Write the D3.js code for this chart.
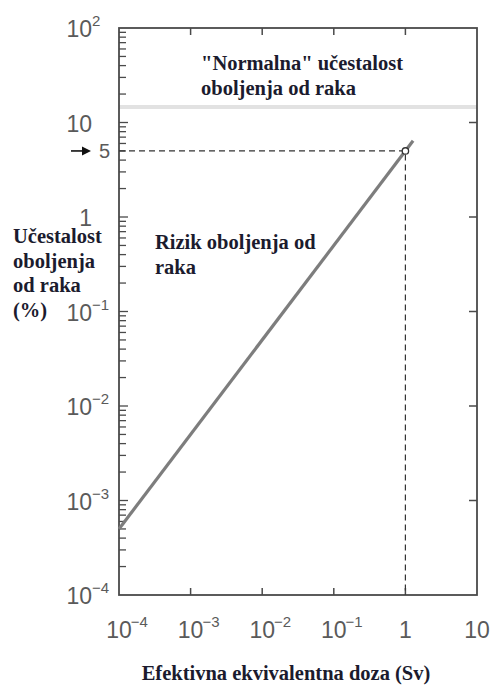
<!DOCTYPE html>
<html><head><meta charset="utf-8">
<script src="https://cdn.jsdelivr.net/npm/d3@7"></script>
<style>body{margin:0;background:#fff}svg{display:block}
.serif{font-family:"Liberation Serif","DejaVu Serif","Times New Roman",serif;font-weight:bold}
.tick{font-family:"Liberation Sans","Arial",sans-serif}
</style>
</head><body>
<script>
// Data
const xDomain = [1e-4, 10];
const yDomain = [1e-4, 100];
const xTickValues = [1e-4, 1e-3, 1e-2, 1e-1, 1, 10];
const xTickExps = ["−4", "−3", "−2", "−1", null, null];
const xTickBases = ["10", "10", "10", "10", "1", "10"];
const yTickValues = [1e-4, 1e-3, 1e-2, 1e-1, 1, 10, 100];
const yTickBases = ["10", "10", "10", "10", "1", "10", "10"];
const yTickExps = ["−4", "−3", "−2", "−1", null, null, "2"];
const riskDose = [1e-4, 1.28];      // Sv
const riskValue = [5e-4, 6.4];      // %
const normalIncidence = 14.6;       // %
const markerPoint = {x: 1, y: 5};
const titleNormal = ["\"Normalna\" učestalost", "oboljenja od raka"];
const titleRisk = ["Rizik oboljenja od", "raka"];
const yLabel = ["Učestalost", "oboljenja", "od raka", "(%)"];
const xLabel = "Efektivna ekvivalentna doza (Sv)";

const W = 491, H = 688;
const m = {left: 119, right: 477, top: 28, bottom: 595};
const svg = d3.select("body").append("svg").attr("width", W).attr("height", H);

const x = d3.scaleLog().domain(xDomain).range([m.left, m.right]);
const y = d3.scaleLog().domain(yDomain).range([m.bottom, m.top]);

const axisCol = "#4a4a4a";
const tickLabCol = "#5a5a5a";
const textCol = "#1b1b2e";

// normal incidence band
svg.append("line")
  .attr("x1", m.left).attr("x2", m.right)
  .attr("y1", y(normalIncidence)).attr("y2", y(normalIncidence))
  .attr("stroke", "#e2e2e2").attr("stroke-width", 4);

// minor ticks left
const minor = [];
for (let e = -4; e < 2; e++) for (let k = 2; k <= 9; k++) minor.push(k * Math.pow(10, e));
svg.append("g").selectAll("line").data(minor).join("line")
  .attr("x1", m.left).attr("x2", m.left + 7)
  .attr("y1", d => y(d)).attr("y2", d => y(d))
  .attr("stroke", axisCol).attr("stroke-width", 1.3);
// major ticks left & right
svg.append("g").selectAll("line").data(yTickValues.slice(1, -1)).join("line")
  .attr("x1", m.left).attr("x2", m.left + 9)
  .attr("y1", d => y(d)).attr("y2", d => y(d))
  .attr("stroke", axisCol).attr("stroke-width", 1.3);
svg.append("g").selectAll("line").data(yTickValues.slice(1, -1)).join("line")
  .attr("x1", m.right).attr("x2", m.right - 8)
  .attr("y1", d => y(d)).attr("y2", d => y(d))
  .attr("stroke", axisCol).attr("stroke-width", 1.5);
// x ticks bottom & top
const xInner = xTickValues.slice(1, -1);
svg.append("g").selectAll("line").data(xInner).join("line")
  .attr("x1", d => x(d)).attr("x2", d => x(d))
  .attr("y1", m.bottom).attr("y2", m.bottom - 7)
  .attr("stroke", axisCol).attr("stroke-width", 1.5);
svg.append("g").selectAll("line").data(xInner).join("line")
  .attr("x1", d => x(d)).attr("x2", d => x(d))
  .attr("y1", m.top).attr("y2", m.top + 7)
  .attr("stroke", axisCol).attr("stroke-width", 1.5);

// frame
svg.append("rect").attr("x", m.left).attr("y", m.top)
  .attr("width", m.right - m.left).attr("height", m.bottom - m.top)
  .attr("fill", "none").attr("stroke", axisCol).attr("stroke-width", 1.8);

// dashed guides
svg.append("path")
  .attr("d", `M${m.left},${y(markerPoint.y)}H${x(markerPoint.x)}V${m.bottom}`)
  .attr("fill", "none").attr("stroke", "#333").attr("stroke-width", 1.2)
  .attr("stroke-dasharray", "6,4");

// risk line
const line = d3.line().x(d => x(d[0])).y(d => y(d[1]));
svg.append("path").datum(riskDose.map((d, i) => [d, riskValue[i]]))
  .attr("d", line).attr("fill", "none").attr("stroke", "#7d7d7d").attr("stroke-width", 3.2);

// marker
svg.append("circle").attr("cx", x(markerPoint.x)).attr("cy", y(markerPoint.y)).attr("r", 3.2)
  .attr("fill", "#fff").attr("stroke", "#333").attr("stroke-width", 1.3);

// tick labels
xTickValues.forEach((v, i) => {
  const g = svg.append("g");
  const t = g.append("text").attr("class", "tick").attr("fill", tickLabCol)
    .attr("y", 638).attr("font-size", 23).attr("text-anchor", "middle")
    .attr("x", x(v)).text(xTickBases[i]);
  if (xTickExps[i]) {
    const bw = t.node().getComputedTextLength();
    g.append("text").attr("class", "tick").attr("fill", tickLabCol)
      .attr("font-size", 15).attr("x", x(v) + bw / 2 - 1).attr("y", 627).text(xTickExps[i]);
  }
});
yTickValues.forEach((v, i) => {
  const g = svg.append("g");
  const by = y(v) + 9;
  g.append("text").attr("class", "tick").attr("fill", tickLabCol)
    .attr("y", by).attr("font-size", 23).attr("text-anchor", "end")
    .attr("x", 92).text(yTickBases[i]);
  if (yTickExps[i]) {
    g.append("text").attr("class", "tick").attr("fill", tickLabCol)
      .attr("font-size", 15).attr("x", 92).attr("y", by - 11).text(yTickExps[i]);
  }
});
// "5" marker label with arrow
svg.append("text").attr("class", "tick").attr("fill", tickLabCol)
  .attr("font-size", 20).attr("x", 99).attr("y", y(markerPoint.y) + 7).text("5");
svg.append("line").attr("x1", 71).attr("x2", 84)
  .attr("y1", y(markerPoint.y)).attr("y2", y(markerPoint.y))
  .attr("stroke", "#111").attr("stroke-width", 1.6);
svg.append("path")
  .attr("d", `M91,${y(markerPoint.y)}L82,${y(markerPoint.y) - 4.5}L82,${y(markerPoint.y) + 4.5}Z`)
  .attr("fill", "#111");

// annotations
function block(lines, x0, y0, lh, anchor, size) {
  const t = svg.append("text").attr("class", "serif")
    .attr("font-size", size).attr("fill", textCol).attr("text-anchor", anchor);
  lines.forEach((l, i) => t.append("tspan").attr("x", x0).attr("y", y0 + i * lh).text(l));
}
block(titleNormal, 201, 70, 25, "start", 20.5);
block(titleRisk, 155, 249, 25, "start", 20.5);
block(yLabel, 13, 243, 24.7, "start", 20.5);
svg.append("text").attr("class", "serif")
  .attr("font-size", 20.5).attr("fill", textCol).attr("text-anchor", "middle")
  .attr("x", 286).attr("y", 680).text(xLabel);
</script>
</body></html>
